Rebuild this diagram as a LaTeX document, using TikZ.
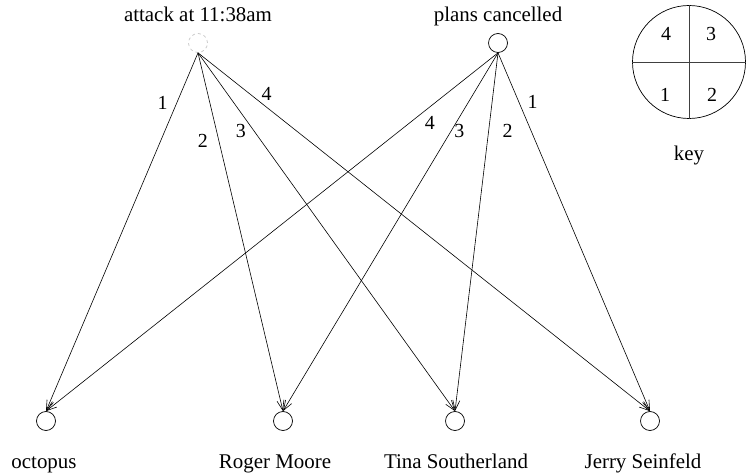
\documentclass[tikz,border=0pt]{standalone}
\usepackage{fontspec}
\setmainfont{Liberation Serif}
\usetikzlibrary{arrows.meta}
\begin{document}
\begin{tikzpicture}[x=1bp,y=-1bp,
  every node/.style={font=\fontsize{21}{24}\selectfont},
  vert/.style={circle,draw,minimum size=19bp,inner sep=0pt,line width=0.7bp},
  ghost/.style={vert,draw=gray!45,dashed},
  lab/.style={inner sep=0pt,anchor=base},
  elab/.style={inner sep=0pt,font=\fontsize{20}{24}\selectfont},
  edge/.style={line width=0.6bp,-{Straight Barb[length=10bp,width=7bp]}}]
\useasboundingbox (0,0) rectangle (752,473);
% top vertices
\node[ghost] (att) at (198,43) {};
\node[vert] (pc) at (498,43) {};
\node[lab] (attl) at (198,22) {attack at 11:38am};
\node[lab] (pcl) at (498,22) {plans cancelled};
% bottom vertices
\node[vert] (oc) at (46,421) {};
\node[vert] (rm) at (283,421) {};
\node[vert] (ts) at (455,421) {};
\node[vert] (js) at (650,421) {};
\node[lab] (ocl) at (44,468) {octopus};
\node[lab] (rml) at (275,468) {Roger Moore};
\node[lab] (tsl) at (456,468) {Tina Southerland};
\node[lab] (jsl) at (643,468) {Jerry Seinfeld};
% edges from attack
\draw[edge] (att.south) -- node[elab,pos=0.14,xshift=-14bp]{1} (oc.north);
\draw[edge] (att.south) -- node[elab,pos=0.245,xshift=-16bp]{2} (rm.north);
\draw[edge] (att.south) -- node[elab,pos=0.217,xshift=-13bp]{3} (ts.north);
\draw[edge] (att.south) -- node[elab,pos=0.114,xshift=17bp]{4} (js.north);
% edges from plans cancelled
\draw[edge] (pc.south) -- node[elab,pos=0.195,xshift=20bp]{4} (oc.north);
\draw[edge] (pc.south) -- node[elab,pos=0.217,xshift=8bp]{3} (rm.north);
\draw[edge] (pc.south) -- node[elab,pos=0.217,xshift=19bp]{2} (ts.north);
\draw[edge] (pc.south) -- node[elab,pos=0.136,xshift=14bp]{1} (js.north);
% key
\node[circle,draw,line width=0.7bp,minimum size=113bp,inner sep=0pt] (key) at (689,62) {};
\draw[line width=0.7bp,draw=black!75] (key.north) -- (key.south);
\draw[line width=0.7bp,draw=black!75] (key.west) -- (key.east);
\node[elab] (k4) at (666,34) {4};
\node[elab] (k3) at (711,34) {3};
\node[elab] (k1) at (665,95) {1};
\node[elab] (k2) at (712,95) {2};
\node[lab] (keyl) at (689,161) {key};
\end{tikzpicture}
\end{document}
